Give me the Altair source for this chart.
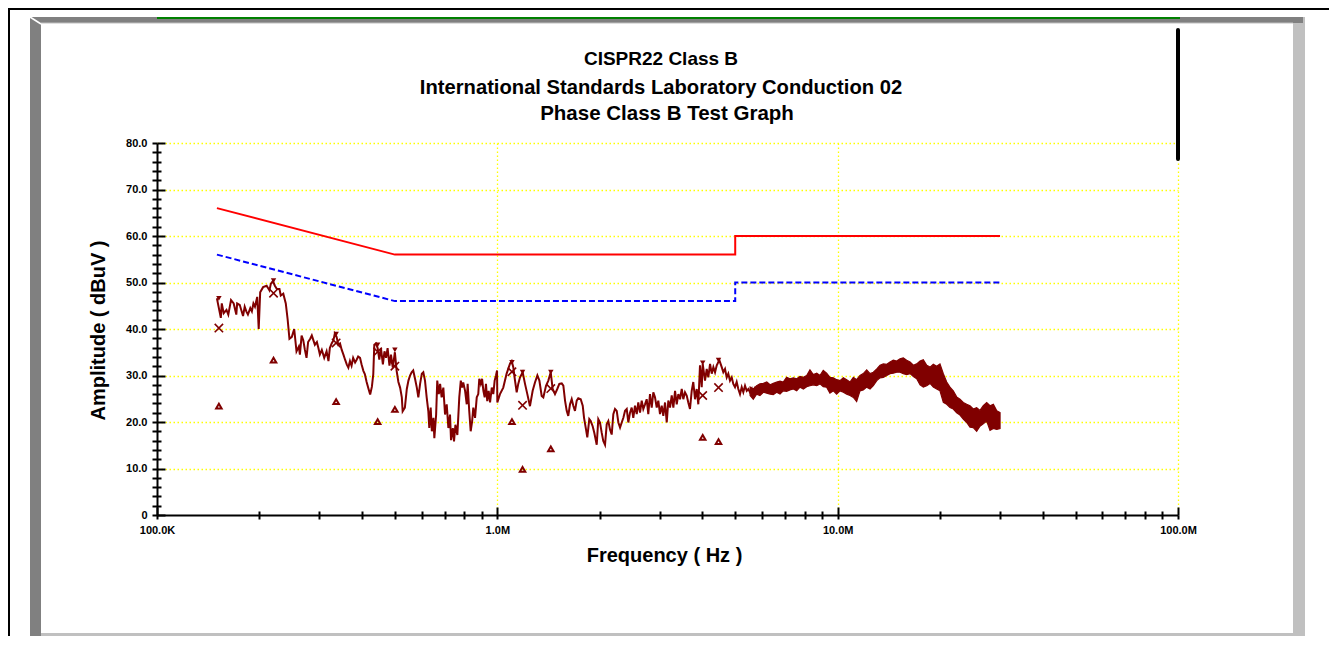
import altair as alt
import pandas as pd

# ---------------- data ----------------
trace_freq_mhz = [
    0.150, 0.151, 0.154, 0.155, 0.157, 0.160, 0.162, 0.165, 0.168, 0.171,
    0.172, 0.175, 0.179, 0.181, 0.183, 0.185, 0.188, 0.190, 0.192, 0.194,
    0.197, 0.199, 0.201, 0.205, 0.210, 0.214, 0.216, 0.219, 0.222, 0.225,
    0.229, 0.231, 0.235, 0.239, 0.242, 0.245, 0.249, 0.253, 0.257, 0.261,
    0.263, 0.266, 0.269, 0.272, 0.275, 0.278, 0.282, 0.285, 0.288, 0.291,
    0.295, 0.298, 0.301, 0.305, 0.310, 0.315, 0.319, 0.322, 0.326, 0.330,
    0.333, 0.337, 0.341, 0.345, 0.349, 0.353, 0.357, 0.361, 0.365, 0.369,
    0.373, 0.377, 0.382, 0.386, 0.390, 0.395, 0.399, 0.404, 0.408, 0.413,
    0.418, 0.423, 0.428, 0.432, 0.435, 0.440, 0.445, 0.450, 0.455, 0.461,
    0.466, 0.471, 0.476, 0.482, 0.487, 0.493, 0.500, 0.506, 0.512, 0.518,
    0.524, 0.527, 0.535, 0.542, 0.548, 0.554, 0.560, 0.566, 0.573, 0.580,
    0.586, 0.593, 0.600, 0.606, 0.613, 0.620, 0.627, 0.631, 0.637, 0.642,
    0.649, 0.653, 0.661, 0.666, 0.673, 0.679, 0.686, 0.694, 0.702, 0.710,
    0.718, 0.726, 0.731, 0.740, 0.746, 0.753, 0.763, 0.773, 0.781, 0.788,
    0.794, 0.804, 0.813, 0.818, 0.827, 0.835, 0.843, 0.850, 0.860, 0.870,
    0.879, 0.885, 0.894, 0.902, 0.910, 0.918, 0.926, 0.934, 0.943, 0.952,
    0.963, 0.973, 0.982, 0.991, 0.998, 1.000, 1.018, 1.041, 1.065, 1.090,
    1.102, 1.114, 1.127, 1.140, 1.152, 1.166, 1.187, 1.206, 1.225, 1.247,
    1.270, 1.290, 1.311, 1.329, 1.350, 1.365, 1.390, 1.412, 1.435, 1.454,
    1.477, 1.500, 1.521, 1.546, 1.563, 1.581, 1.599, 1.616, 1.635, 1.654,
    1.672, 1.691, 1.711, 1.729, 1.758, 1.782, 1.798, 1.822, 1.838, 1.863,
    1.881, 1.906, 1.927, 1.959, 1.980, 2.003, 2.026, 2.048, 2.072, 2.096,
    2.119, 2.143, 2.168, 2.192, 2.217, 2.243, 2.268, 2.294, 2.320, 2.346,
    2.373, 2.400, 2.426, 2.454, 2.482, 2.509, 2.538, 2.568, 2.595, 2.626,
    2.656, 2.685, 2.716, 2.747, 2.777, 2.809, 2.842, 2.873, 2.906, 2.940,
    2.972, 3.006, 3.041, 3.074, 3.110, 3.146, 3.180, 3.217, 3.254, 3.290,
    3.328, 3.366, 3.403, 3.442, 3.482, 3.519, 3.560, 3.601, 3.640, 3.682,
    3.725, 3.765, 3.809, 3.853, 3.895, 3.940, 3.986, 4.013, 4.076, 4.123,
    4.168, 4.217, 4.266, 4.313, 4.362, 4.413, 4.490, 4.564, 4.613, 4.667,
    4.721, 4.772, 4.827, 4.883, 4.936, 4.993, 5.050, 5.106, 5.165, 5.225,
    5.282, 5.343, 5.405, 5.464, 5.526, 5.590, 5.651, 5.717, 5.783,
]
trace_dbuv = [
    46.6, 45.5, 42.4, 45.5, 43.4, 44.1, 43.1, 46.2, 45.5, 43.1,
    45.5, 45.2, 42.8, 44.8, 43.8, 43.1, 44.5, 43.8, 45.5, 44.8,
    46.9, 40.0, 47.9, 49.0, 49.3, 48.3, 49.7, 50.3, 49.3, 48.6,
    48.6, 47.2, 47.6, 45.5, 42.1, 37.9, 38.3, 40.0, 35.2, 36.2,
    34.5, 38.6, 37.6, 35.5, 33.8, 37.2, 37.9, 38.6, 37.6, 36.6,
    37.2, 35.9, 34.5, 35.5, 33.8, 35.2, 33.1, 35.9, 36.9, 37.6,
    39.0, 38.3, 36.6, 36.9, 35.5, 34.5, 33.4, 32.4, 31.7, 33.1,
    32.1, 33.8, 32.8, 33.4, 34.1, 33.8, 32.4, 31.0, 30.3, 28.6,
    27.2, 25.9, 27.6, 30.3, 36.6, 36.9, 35.9, 33.4, 35.9, 32.4,
    35.2, 33.8, 35.9, 32.1, 34.5, 31.7, 35.0, 31.0, 28.6, 27.4,
    25.3, 22.3, 23.1, 27.1, 28.9, 30.0, 30.7, 31.1, 29.3, 27.4,
    25.3, 28.2, 30.4, 30.7, 28.9, 25.3, 22.3, 18.7, 23.1, 18.0,
    20.9, 16.5, 21.6, 28.9, 26.0, 28.2, 25.3, 27.4, 21.6, 23.8,
    18.7, 21.6, 16.1, 18.7, 15.8, 19.4, 17.2, 25.3, 28.9, 27.4,
    28.5, 26.7, 23.8, 28.2, 22.3, 18.0, 20.1, 23.1, 20.9, 25.3,
    26.0, 29.3, 28.2, 29.3, 26.7, 25.3, 28.2, 24.5, 26.7, 24.2,
    27.4, 26.0, 28.9, 30.0, 31.1, 24.2, 26.0, 27.4, 30.4, 32.6,
    33.1, 31.8, 28.9, 26.4, 28.2, 29.6, 30.7, 28.2, 26.0, 23.4,
    26.7, 28.5, 30.0, 28.9, 25.6, 25.3, 27.8, 28.9, 30.7, 27.1,
    26.0, 27.1, 28.2, 28.3, 27.8, 24.6, 22.4, 21.3, 23.8, 24.9,
    23.5, 22.4, 24.6, 25.1, 24.9, 23.5, 20.9, 18.4, 16.7, 20.6,
    20.2, 19.1, 17.7, 15.1, 20.6, 19.9, 17.7, 15.9, 15.1, 19.5,
    20.2, 18.4, 17.3, 21.7, 22.8, 22.4, 19.9, 18.8, 19.9, 20.9,
    22.4, 22.8, 19.9, 22.0, 23.1, 20.9, 23.5, 21.7, 24.2, 22.0,
    24.6, 22.8, 23.8, 24.9, 21.7, 26.0, 23.1, 26.4, 25.3, 23.1,
    24.6, 21.7, 23.5, 21.3, 24.2, 19.9, 24.6, 23.1, 25.7, 23.1,
    26.7, 23.8, 26.0, 24.9, 27.1, 24.9, 26.4, 25.7, 24.2, 22.8,
    26.7, 28.6, 24.9, 27.1, 23.8, 32.2, 27.5, 32.5, 28.9, 31.4,
    29.6, 32.5, 30.4, 31.8, 30.7, 32.2, 33.3, 31.8, 30.7, 31.4,
    29.6, 30.4, 28.9, 29.6, 28.2, 27.5, 28.6, 27.1, 26.0, 27.5,
    26.4, 27.8, 26.7, 27.1, 26.4, 27.1, 25.3, 27.1, 26.4,
]

# dense part of the sweep (5.5 - 30 MHz): upper / lower edge of the noise band
band_freq_mhz = [
    5.53, 5.65, 5.78, 5.91, 6.05, 6.19, 6.33, 6.47, 6.62, 6.77,
    6.92, 7.08, 7.24, 7.41, 7.58, 7.75, 7.93, 8.11, 8.29, 8.48,
    8.68, 8.87, 9.07, 9.28, 9.49, 9.71, 9.93, 10.16, 10.39, 10.63,
    10.87, 11.12, 11.37, 11.63, 11.89, 12.17, 12.45, 12.73, 13.03, 13.32,
    13.62, 13.94, 14.25, 14.57, 14.91, 15.25, 15.59, 15.95, 16.32, 16.69,
    17.07, 17.46, 17.85, 18.27, 18.68, 19.10, 19.54, 19.98, 20.44, 20.91,
    21.38, 21.86, 22.37, 22.88, 23.39, 23.94, 24.48, 25.03, 25.61, 26.19,
    26.78, 27.41, 28.03, 28.67, 29.34, 30.00,
]
band_hi_dbuv = [
    27.5, 27.1, 27.8, 28.2, 28.3, 28.6, 28.0, 28.3, 28.6, 28.8,
    28.6, 29.6, 29.3, 29.5, 29.3, 29.8, 29.6, 30.0, 31.2, 30.2,
    30.5, 30.0, 31.1, 30.5, 29.6, 29.5, 29.1, 28.9, 29.5, 29.1,
    28.6, 29.6, 29.1, 30.0, 30.4, 31.2, 30.4, 30.7, 31.4, 32.2,
    32.5, 32.4, 32.9, 33.3, 33.1, 33.6, 33.8, 33.3, 32.9, 32.2,
    32.5, 33.1, 33.4, 32.2, 31.8, 32.4, 32.0, 32.5, 30.4, 28.6,
    27.5, 26.7, 25.4, 24.9, 24.2, 23.8, 23.5, 22.8, 23.1, 22.5,
    23.5, 24.2, 23.5, 23.8, 22.4, 22.0,
]
band_lo_dbuv = [
    25.7, 24.9, 26.0, 25.7, 26.4, 26.2, 26.0, 25.9, 26.4, 26.0,
    26.7, 26.6, 26.9, 27.1, 26.7, 27.5, 27.1, 27.6, 27.8, 28.0,
    27.8, 28.2, 27.6, 27.5, 26.2, 26.7, 26.0, 26.7, 26.4, 26.0,
    25.7, 25.3, 24.4, 26.7, 26.9, 27.5, 27.1, 27.8, 28.9, 29.5,
    29.6, 30.0, 30.4, 30.5, 30.7, 30.7, 30.4, 30.2, 30.4, 29.8,
    29.3, 28.0, 27.5, 27.8, 28.3, 27.5, 27.1, 26.7, 24.2, 23.8,
    23.1, 22.8, 22.0, 21.5, 20.6, 19.9, 18.9, 18.8, 18.0, 19.1,
    19.6, 20.2, 18.2, 18.6, 18.4, 18.6,
]

# CISPR22 class B conducted limits
qp_limit_freq = [0.15, 0.5, 5.0, 5.0, 30.0]
qp_limit_dbuv = [66.0, 56.0, 56.0, 60.0, 60.0]
avg_limit_freq = [0.15, 0.5, 5.0, 5.0, 30.0]
avg_limit_dbuv = [56.0, 46.0, 46.0, 50.0, 50.0]

# measured points
marker_freq = [0.152, 0.220, 0.336, 0.445, 0.500, 1.104, 1.186, 1.436, 4.013, 4.466]
peak_dbuv = [46.6, 50.4, 38.9, 36.6, 35.5, 32.8, 30.7, 30.7, 32.7, 33.3]
qp_dbuv = [40.2, 47.7, 37.0, 35.1, 32.0, 30.8, 23.6, 27.2, 25.7, 27.4]
avg_dbuv = [23.4, 33.3, 24.4, 20.1, 22.7, 20.1, 9.8, 14.2, 16.7, 15.8]

x_tick_values = [0.1, 0.2, 0.3, 0.4, 0.5, 0.6, 0.7, 0.8, 0.9,
                 1, 2, 3, 4, 5, 6, 7, 8, 9,
                 10, 20, 30, 40, 50, 60, 70, 80, 90, 100]
y_tick_values = [0, 2, 4, 6, 8, 10, 12, 14, 16, 18, 20, 22, 24, 26, 28, 30,
                 32, 34, 36, 38, 40, 42, 44, 46, 48, 50, 52, 54, 56, 58, 60,
                 62, 64, 66, 68, 70, 72, 74, 76, 78, 80]

title_lines = ["CISPR22 Class B",
               "International Standards Laboratory Conduction 02",
               "Phase Class B Test Graph"]
x_title = "Frequency ( Hz )"
y_title = "Amplitude ( dBuV )"

# ---------------- styling ----------------
W, H = 1021, 372
FONT = "Liberation Sans"
MAROON = "#800000"

xs = alt.Scale(type="log", domain=[0.1, 100], nice=False)
ys = alt.Scale(domain=[0, 80], nice=False, zero=False)

dec = "abs(log(datum.value)/LN10 - round(log(datum.value)/LN10)) < 0.001"
x_label = (f"({dec}) ? (datum.value < 1 ? format(datum.value*1000, '.1f') + 'K'"
           f" : format(datum.value, '.1f') + 'M') : ''")
y_label = ("datum.value % 10 === 0 ? (datum.value === 0 ? '0' : "
           "format(datum.value, '.1f')) : ''")

x_axis = alt.Axis(
    orient="bottom", values=x_tick_values, labelExpr=x_label,
    labelFlush=False, labelOverlap=False, labelFont=FONT, labelFontSize=11,
    labelFontWeight="bold", labelColor="black", labelPadding=5,
    tickSize=4, tickWidth=2, tickColor="black",
    domainColor="black", domainWidth=2,
    grid=True, gridColor="#ffff00", gridDash=[1.5, 2.5], gridWidth=1.3,
    gridOpacity={"condition": {"test": f"({dec}) && datum.value > 0.15", "value": 1}, "value": 0},
    title=x_title, titleFont=FONT, titleFontSize=20, titleFontWeight="bold",
    titleColor="black", titleX=507, titleY=46, titleAlign="center",
    titleBaseline="alphabetic", titleAngle=0,
)
y_axis = alt.Axis(
    orient="left", values=y_tick_values, labelExpr=y_label,
    labelFlush=False, labelOverlap=False, labelFont=FONT, labelFontSize=11,
    labelFontWeight="bold", labelColor="black", labelPadding=5,
    tickSize=5, tickWidth=2, tickColor="black",
    domainColor="black", domainWidth=2,
    grid=True, gridColor="#ffff00", gridDash=[1.5, 2.5], gridWidth=1.3,
    gridOpacity={"condition": {"test": "datum.value % 10 === 0 && datum.value > 0", "value": 1}, "value": 0},
    title=y_title, titleFont=FONT, titleFontSize=20, titleFontWeight="bold",
    titleColor="black", titleX=-53, titleY=187, titleAlign="center",
    titleBaseline="alphabetic", titleAngle=270,
)
# inward half of the tick marks
x_axis_in = alt.Axis(
    orient="top", offset=-H, values=x_tick_values, labels=False, domain=False,
    grid=False, tickWidth=2, tickColor="black", title=None,
    tickSize={"condition": {"test": dec, "value": 8}, "value": 4},
)
y_axis_in = alt.Axis(
    orient="right", offset=-W, values=y_tick_values, labels=False, domain=False,
    grid=False, tickWidth=2, tickColor="black", title=None,
    tickSize={"condition": {"test": "datum.value % 10 === 0", "value": 8}, "value": 4},
)

one = pd.DataFrame({"k": [0]})


def box(x1, x2, y1, y2, color):
    return alt.Chart(one).mark_rect(fill=color, strokeWidth=0).encode(
        x=alt.value(x1), x2=alt.value(x2), y=alt.value(y1), y2=alt.value(y2))


def rule(x1, x2, y1, y2, color, width, cap="butt"):
    return alt.Chart(one).mark_rule(color=color, strokeWidth=width, strokeCap=cap).encode(
        x=alt.value(x1), x2=alt.value(x2), y=alt.value(y1), y2=alt.value(y2))


frame = [
    alt.Chart(one).mark_rect(fillOpacity=0, stroke="black", strokeWidth=2).encode(
        x=alt.value(-148), x2=alt.value(1173), y=alt.value(-134), y2=alt.value(520)),
    box(1136, 1148, -126, 497, "#c0c0c0"),
    box(-127, 1148, 490, 497, "#c0c0c0"),
    box(-127, -116, -126, 497, "#808080"),
    box(-127, 1146, -126, -120, "#808080"),
    rule(-116, 1136, -120, -120, "#c0c0c0", 1),
    rule(-127, -116, -126, -119, "white", 1.5),
    rule(0, 1023, -125, -125, "#008000", 2),
    rule(1021, 1021, -113, 16, "black", 4, "round"),
]

qp_df = pd.DataFrame({"f": qp_limit_freq, "db": qp_limit_dbuv, "o": range(len(qp_limit_freq))})
avg_df = pd.DataFrame({"f": avg_limit_freq, "db": avg_limit_dbuv, "o": range(len(avg_limit_freq))})
trace_df = pd.DataFrame({"f": trace_freq_mhz, "db": trace_dbuv})
band_df = pd.DataFrame({"f": band_freq_mhz, "hi": band_hi_dbuv, "lo": band_lo_dbuv})
mk_df = pd.DataFrame({"f": marker_freq, "peak": peak_dbuv, "qp": qp_dbuv, "avg": avg_dbuv})

red = alt.Chart(qp_df).mark_line(color="#ff0000", strokeWidth=2).encode(
    x=alt.X("f:Q", scale=xs, axis=x_axis_in),
    y=alt.Y("db:Q", scale=ys, axis=y_axis_in),
    order="o:Q")
blue = alt.Chart(avg_df).mark_line(color="#0000ff", strokeWidth=2, strokeDash=[6, 3]).encode(
    x=alt.X("f:Q", scale=xs, axis=None),
    y=alt.Y("db:Q", scale=ys, axis=None),
    order="o:Q")
band = alt.Chart(band_df).mark_area(color=MAROON, stroke=MAROON, strokeWidth=1.2,
                                    opacity=1).encode(
    x=alt.X("f:Q", scale=xs, axis=None),
    y=alt.Y("hi:Q", scale=ys, axis=None),
    y2="lo:Q")
trace = alt.Chart(trace_df).mark_line(color=MAROON, strokeWidth=2).encode(
    x=alt.X("f:Q", scale=xs, axis=x_axis),
    y=alt.Y("db:Q", scale=ys, axis=y_axis))

peak_pts = alt.Chart(mk_df).mark_point(shape="triangle-down", filled=True, color=MAROON,
                                       size=30, opacity=1).encode(
    x=alt.X("f:Q", scale=xs, axis=None), y=alt.Y("peak:Q", scale=ys, axis=None))
qp_pts = alt.Chart(mk_df).mark_point(shape="M-1,-1L1,1M-1,1L1,-1", filled=False,
                                     stroke=MAROON, strokeWidth=1.6, size=70, opacity=1).encode(
    x=alt.X("f:Q", scale=xs, axis=None), y=alt.Y("qp:Q", scale=ys, axis=None))
avg_pts = alt.Chart(mk_df).mark_point(shape="triangle-up", filled=False, stroke=MAROON,
                                      strokeWidth=2, size=30, opacity=1).encode(
    x=alt.X("f:Q", scale=xs, axis=None), y=alt.Y("avg:Q", scale=ys, axis=None))

title_x = [504, 504, 510]
title_y = [-78, -49, -23]
title_size = [19, 20.2, 20.5]
titles = [
    alt.Chart(one).mark_text(text=t, font=FONT, fontSize=fs, fontWeight="bold",
                             align="center", baseline="alphabetic", color="black").encode(
        x=alt.value(tx), y=alt.value(ty))
    for t, tx, ty, fs in zip(title_lines, title_x, title_y, title_size)
]

chart = alt.layer(
    *frame, red, blue, band, trace, avg_pts, qp_pts, peak_pts, *titles
).resolve_axis(x="independent", y="independent").properties(
    width=W, height=H,
    autosize=alt.AutoSizeParams(type="none"),
    padding={"left": 149, "top": 135, "right": 151, "bottom": 121},
    background="white",
).configure_view(stroke=None)

chart.save("out.html", embed_options={"renderer": "svg", "actions": False})
